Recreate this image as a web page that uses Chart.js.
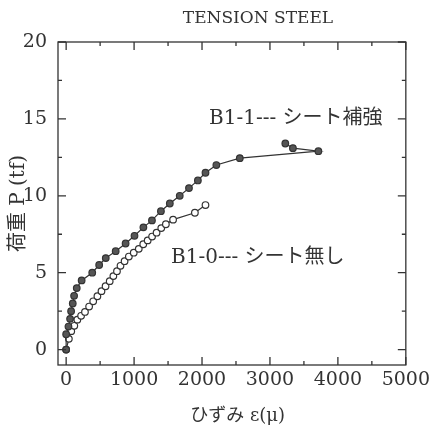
<!DOCTYPE html>
<html>
<head>
<meta charset="utf-8">
<script src="https://cdn.jsdelivr.net/npm/chart.js@4"></script>
<style>
    html, body { margin: 0; padding: 0; background: #fff; }
    #wrap { width: 434px; height: 432px; }
</style>
</head>
<body>
<div id="wrap"><canvas id="chart" width="434" height="432"></canvas></div>
<script>
// B1-1 (シート補強) : strain (μ) / load (tf)
const sheetStrain = [0, 0, 34, 58, 73, 97, 117, 156, 228, 384, 486, 583, 729, 875, 1006, 1137, 1263, 1395, 1526, 1672, 1808, 1939, 2051, 2211, 2556, 3713, 3338, 3226];
const sheetLoad = [0, 1.0, 1.5, 2.0, 2.5, 3.0, 3.5, 4.0, 4.5, 5.0, 5.5, 5.95, 6.4, 6.9, 7.4, 7.95, 8.4, 9.0, 9.5, 10.0, 10.5, 11.0, 11.5, 12.0, 12.45, 12.9, 13.1, 13.4];

// B1-0 (シート無し)
const plainStrain = [0, 40, 75, 120, 165, 220, 277, 338, 398, 460, 520, 580, 641, 695, 748, 800, 860, 923, 995, 1069, 1135, 1200, 1265, 1331, 1400, 1468, 1574, 1895, 2051];
const plainLoad = [0, 0.7, 1.2, 1.55, 1.95, 2.2, 2.45, 2.8, 3.14, 3.47, 3.8, 4.12, 4.45, 4.78, 5.1, 5.45, 5.75, 6.05, 6.3, 6.55, 6.85, 7.1, 7.35, 7.6, 7.9, 8.15, 8.45, 8.9, 9.4];

const xTicks = [0, 1000, 2000, 3000, 4000, 5000];
const yTicks = [0, 5, 10, 15, 20];

const SERIF = '"DejaVu Serif", "Liberation Serif", "Noto Sans CJK JP", serif';
const INK = '#333';

const pts = (xs, ys) => xs.map((x, i) => ({ x: x, y: ys[i] }));

// frame, inward ticks on all four sides, title and series captions
const framePlugin = {
    id: 'frame',
    afterDatasetsDraw(chart) {
        const { ctx, chartArea: a, scales: { x, y } } = chart;
        ctx.save();
        ctx.strokeStyle = INK;
        ctx.lineWidth = 1.3;
        ctx.strokeRect(a.left, a.top, a.right - a.left, a.bottom - a.top);

        ctx.beginPath();
        for (let v = 0; v <= 5000; v += 500) {
            const px = x.getPixelForValue(v);
            const len = v % 1000 === 0 ? 8 : 4;
            ctx.moveTo(px, a.bottom); ctx.lineTo(px, a.bottom - len);
            ctx.moveTo(px, a.top); ctx.lineTo(px, a.top + len);
        }
        for (let v = 0; v <= 20; v += 2.5) {
            const py = y.getPixelForValue(v);
            const len = v % 5 === 0 ? 8 : 4;
            ctx.moveTo(a.left, py); ctx.lineTo(a.left + len, py);
            ctx.moveTo(a.right, py); ctx.lineTo(a.right - len, py);
        }
        ctx.stroke();

        ctx.fillStyle = INK;
        ctx.textBaseline = 'middle';
        ctx.textAlign = 'center';
        ctx.font = '17px ' + SERIF;
        ctx.fillText('TENSION STEEL', 258, 19);

        ctx.textAlign = 'left';
        ctx.font = '20px ' + SERIF;
        ctx.fillText('B1-1--- シート補強', 209, 119);
        ctx.fillText('B1-0--- シート無し', 171, 258);
        ctx.restore();
    }
};

new Chart(document.getElementById('chart'), {
    type: 'scatter',
    data: {
        datasets: [
            {
                label: 'B1-1',
                data: pts(sheetStrain, sheetLoad),
                showLine: true,
                borderColor: INK,
                borderWidth: 1.2,
                pointRadius: 3.3,
                pointBackgroundColor: '#555',
                pointBorderColor: INK,
                pointBorderWidth: 1.2
            },
            {
                label: 'B1-0',
                data: pts(plainStrain, plainLoad),
                showLine: true,
                borderColor: INK,
                borderWidth: 1.2,
                pointRadius: 3.3,
                pointBackgroundColor: '#fff',
                pointBorderColor: INK,
                pointBorderWidth: 1.2
            }
        ]
    },
    options: {
        responsive: false,
        animation: false,
        layout: { padding: { left: 0, right: 24, top: 42, bottom: 0 } },
        plugins: {
            legend: { display: false },
            tooltip: { enabled: false }
        },
        scales: {
            x: {
                type: 'linear',
                min: -120,
                max: 5000,
                afterBuildTicks: s => { s.ticks = xTicks.map(v => ({ value: v })); },
                afterFit: s => { s.height = 67; },
                grid: { display: false, drawTicks: false },
                border: { display: false },
                ticks: {
                    color: INK, padding: 4, maxRotation: 0,
                    font: { family: SERIF, size: 19 },
                    callback: v => String(v)
                },
                title: {
                    display: true,
                    text: '  ひずみ ε(μ)',
                    color: INK,
                    padding: { top: 0, bottom: 5 },
                    font: { family: SERIF, size: 18 }
                }
            },
            y: {
                type: 'linear',
                min: -1,
                max: 20,
                afterBuildTicks: s => { s.ticks = yTicks.map(v => ({ value: v })); },
                afterFit: s => { s.width = 58; },
                grid: { display: false, drawTicks: false },
                border: { display: false },
                ticks: { color: INK, padding: 11, font: { family: SERIF, size: 19 } },
                title: {
                    display: true,
                    text: '荷重 P (tf)',
                    color: INK,
                    padding: { top: 7, bottom: 0 },
                    font: { family: SERIF, size: 20 }
                }
            }
        }
    },
    plugins: [framePlugin]
});
</script>
</body>
</html>
